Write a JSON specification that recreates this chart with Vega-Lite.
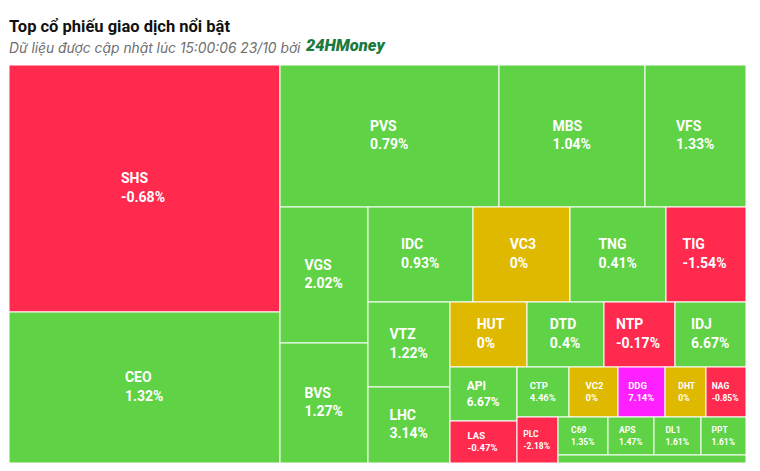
{
  "$schema": "https://vega.github.io/schema/vega-lite/v6.json",
  "width": 737,
  "height": 398,
  "autosize": {"type": "none"},
  "padding": {"left": 9, "top": 65, "right": 14, "bottom": 8},
  "background": "white",
  "title": {
    "text": "Top cổ phiếu giao dịch nổi bật",
    "subtitle": "Dữ liệu được cập nhật lúc 15:00:06 23/10 bởi",
    "anchor": "start",
    "frame": "group",
    "font": "Roboto",
    "fontSize": 16.5,
    "fontWeight": "bold",
    "color": "#111111",
    "subtitleFont": "Inter",
    "subtitleFontStyle": "italic",
    "subtitleFontSize": 13.8,
    "subtitleColor": "#6e6e6e",
    "subtitlePadding": 7,
    "offset": -18
  },
  "data": {
    "values": [
      {"ticker": "SHS", "chg": -0.68, "status": "down", "x0": 9, "x1": 280, "y0": 65, "y1": 312},
      {"ticker": "CEO", "chg": 1.32, "status": "up", "x0": 9, "x1": 280, "y0": 312, "y1": 463},
      {"ticker": "PVS", "chg": 0.79, "status": "up", "x0": 280, "x1": 499, "y0": 65, "y1": 207},
      {"ticker": "MBS", "chg": 1.04, "status": "up", "x0": 499, "x1": 645, "y0": 65, "y1": 207},
      {"ticker": "VFS", "chg": 1.33, "status": "up", "x0": 645, "x1": 746, "y0": 65, "y1": 207},
      {"ticker": "VGS", "chg": 2.02, "status": "up", "x0": 280, "x1": 368, "y0": 207, "y1": 343},
      {"ticker": "BVS", "chg": 1.27, "status": "up", "x0": 280, "x1": 368, "y0": 343, "y1": 463},
      {"ticker": "IDC", "chg": 0.93, "status": "up", "x0": 368, "x1": 473, "y0": 207, "y1": 302},
      {"ticker": "VC3", "chg": 0, "status": "ref", "x0": 473, "x1": 570, "y0": 207, "y1": 302},
      {"ticker": "TNG", "chg": 0.41, "status": "up", "x0": 570, "x1": 666, "y0": 207, "y1": 302},
      {"ticker": "TIG", "chg": -1.54, "status": "down", "x0": 666, "x1": 746, "y0": 207, "y1": 302},
      {"ticker": "VTZ", "chg": 1.22, "status": "up", "x0": 368, "x1": 450, "y0": 302, "y1": 387},
      {"ticker": "LHC", "chg": 3.14, "status": "up", "x0": 368, "x1": 450, "y0": 387, "y1": 463},
      {"ticker": "HUT", "chg": 0, "status": "ref", "x0": 450, "x1": 527, "y0": 302, "y1": 367},
      {"ticker": "DTD", "chg": 0.4, "status": "up", "x0": 527, "x1": 604, "y0": 302, "y1": 367},
      {"ticker": "NTP", "chg": -0.17, "status": "down", "x0": 604, "x1": 675, "y0": 302, "y1": 367},
      {"ticker": "IDJ", "chg": 6.67, "status": "up", "x0": 675, "x1": 746, "y0": 302, "y1": 367},
      {"ticker": "API", "chg": 6.67, "status": "up", "x0": 450, "x1": 517, "y0": 367, "y1": 421},
      {"ticker": "LAS", "chg": -0.47, "status": "down", "x0": 450, "x1": 517, "y0": 421, "y1": 463},
      {"ticker": "CTP", "chg": 4.46, "status": "up", "x0": 517, "x1": 569, "y0": 367, "y1": 417},
      {"ticker": "VC2", "chg": 0, "status": "ref", "x0": 569, "x1": 618, "y0": 367, "y1": 417},
      {"ticker": "DDG", "chg": 7.14, "status": "ceil", "x0": 618, "x1": 665, "y0": 367, "y1": 417},
      {"ticker": "DHT", "chg": 0, "status": "ref", "x0": 665, "x1": 706, "y0": 367, "y1": 417},
      {"ticker": "NAG", "chg": -0.85, "status": "down", "x0": 706, "x1": 746, "y0": 367, "y1": 417},
      {"ticker": "PLC", "chg": -2.18, "status": "down", "x0": 517, "x1": 558, "y0": 417, "y1": 463},
      {"ticker": "C69", "chg": 1.35, "status": "up", "x0": 558, "x1": 608, "y0": 417, "y1": 455},
      {"ticker": "APS", "chg": 1.47, "status": "up", "x0": 608, "x1": 654, "y0": 417, "y1": 455},
      {"ticker": "DL1", "chg": 1.61, "status": "up", "x0": 654, "x1": 701, "y0": 417, "y1": 455},
      {"ticker": "PPT", "chg": 1.61, "status": "up", "x0": 701, "x1": 746, "y0": 417, "y1": 455},
      {"ticker": "", "chg": 1, "status": "up", "x0": 558, "x1": 746, "y0": 455, "y1": 463}
    ]
  },
  "transform": [
    {"calculate": "(datum.x1 - datum.x0) * (datum.y1 - datum.y0)", "as": "area"},
    {"calculate": "datum.area > 4000 ? 14 : datum.area > 3000 ? 12 : datum.area > 2300 ? 9.5 : 8.5", "as": "fs"},
    {"calculate": "[datum.ticker, datum.chg + '%']", "as": "txt"},
    {"calculate": "max(length(datum.ticker), length(datum.chg + '%'))", "as": "ml"},
    {"calculate": "(datum.x0 + datum.x1) / 2 - datum.fs * 0.28 * datum.ml", "as": "lx"},
    {"calculate": "(datum.y0 + datum.y1) / 2 - datum.fs * 0.65", "as": "cy"}
  ],
  "layer": [
    {
      "mark": {"type": "rect", "stroke": "white", "strokeWidth": 1},
      "encoding": {
        "x": {"field": "x0", "type": "quantitative", "scale": {"domain": [9, 746], "nice": false, "zero": false}, "axis": null},
        "x2": {"field": "x1"},
        "y": {"field": "y0", "type": "quantitative", "scale": {"domain": [65, 463], "nice": false, "zero": false, "reverse": true}, "axis": null},
        "y2": {"field": "y1"},
        "color": {
          "field": "status",
          "type": "nominal",
          "scale": {"domain": ["up", "down", "ref", "ceil"], "range": ["#5fd245", "#ff2a4e", "#dfb800", "#ff20ff"]},
          "legend": null
        }
      }
    },
    {
      "transform": [{"filter": "datum.area > 1700"}],
      "mark": {
        "type": "text",
        "align": "left",
        "baseline": "middle",
        "font": "Roboto",
        "fontWeight": "bold",
        "color": "white",
        "lineHeight": {"expr": "datum.fs * 1.3"}
      },
      "encoding": {
        "x": {"field": "lx", "type": "quantitative"},
        "y": {"field": "cy", "type": "quantitative"},
        "text": {"field": "txt"},
        "size": {"field": "fs", "type": "quantitative", "scale": null}
      }
    },
    {
      "data": {"values": [{"brand": "24HMoney", "bx": 306, "by": 51}]},
      "transform": [],
      "mark": {
        "type": "text",
        "align": "left",
        "baseline": "alphabetic",
        "font": "Roboto",
        "fontWeight": 900,
        "fontStyle": "italic",
        "fontSize": 16.5,
        "color": "#1b7a40",
        "clip": false
      },
      "encoding": {
        "x": {"field": "bx", "type": "quantitative"},
        "y": {"field": "by", "type": "quantitative"},
        "text": {"field": "brand"}
      }
    }
  ],
  "config": {"view": {"stroke": null}}
}
